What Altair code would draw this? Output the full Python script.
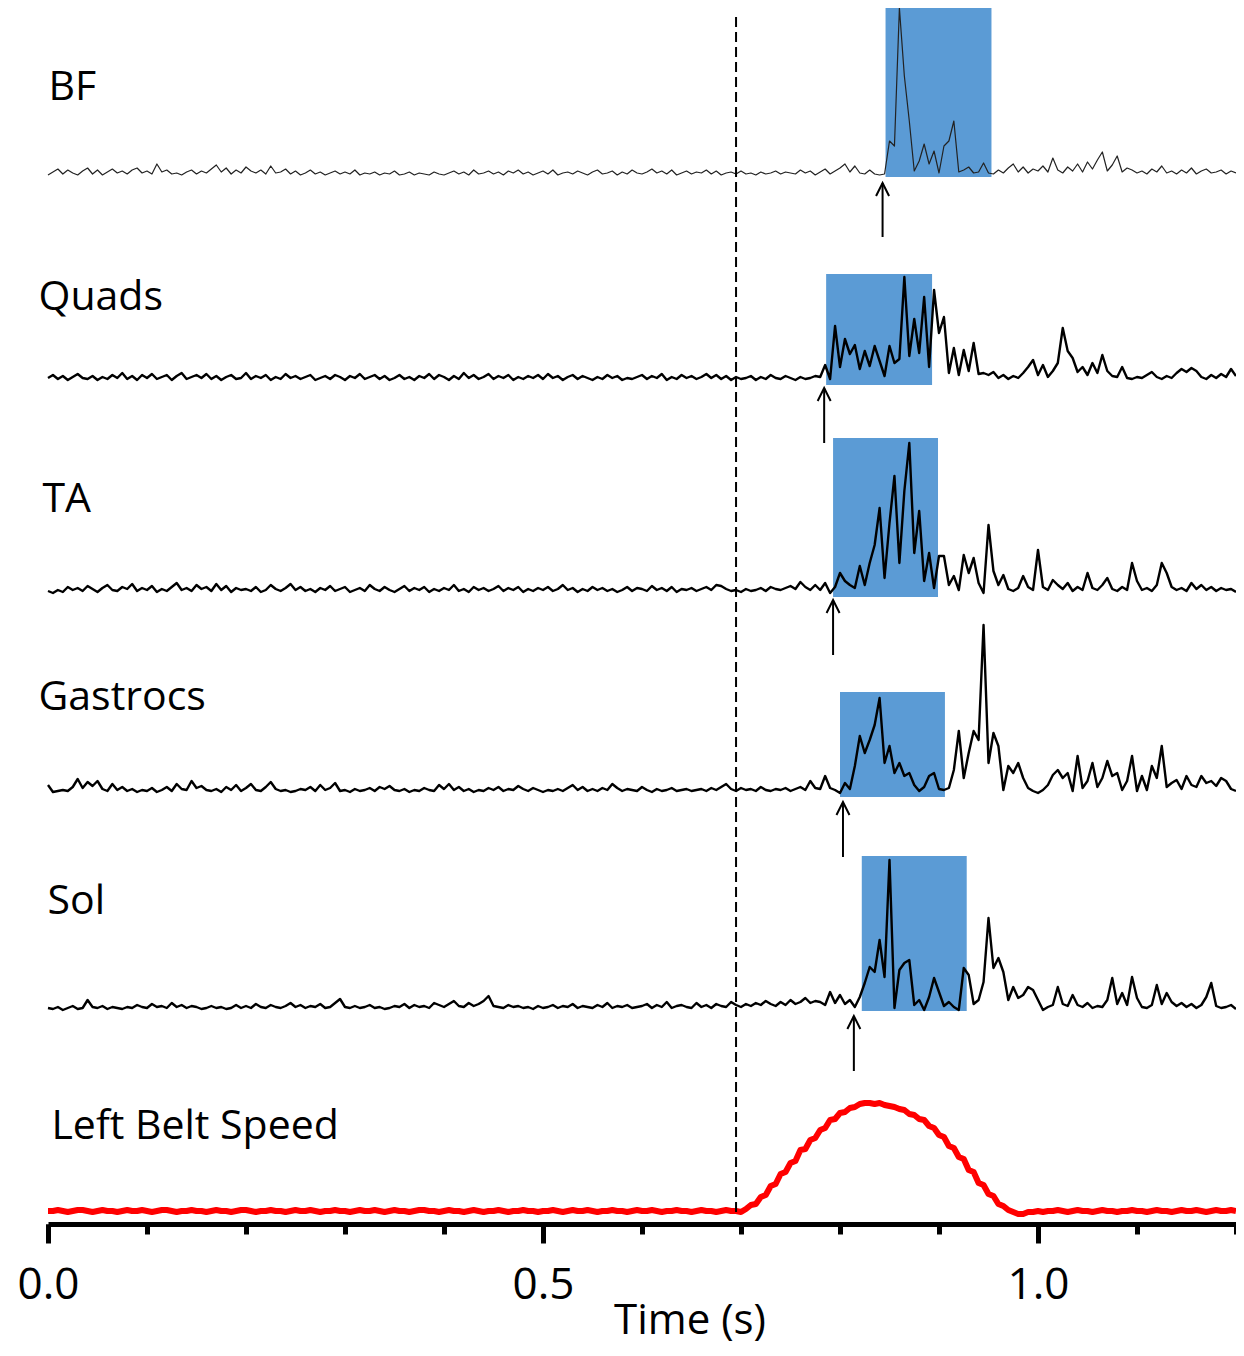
import altair as alt
import pandas as pd

STEP = 0.005  # sampling interval of the traces (s)

channels = ["BF", "Quads", "TA", "Gastrocs", "Sol"]

bf = [
    1, 4, 7, 2, 6, 3, 1, 5, 8, 2,
    6, 1, 4, 7, 3, 5, 2, 6, 8, 3,
    5, 2, 12, 4, 6, 2, 3, 1, 4, 6,
    2, 5, 3, 7, 11, 4, 8, 2, 6, 3,
    9, 5, 3, 6, 2, 10, 3, 4, 7, 2,
    5, 1, 3, 6, 2, 4, 1, 3, 5, 2,
    4, 2, 6, 1, 3, 2, 4, 1, 3, 2,
    5, 1, 2, 4, 1, 3, 2, 1, 4, 2,
    1, 3, 5, 2, 4, 1, 6, 2, 3, 5,
    2, 4, 1, 5, 3, 6, 2, 4, 1, 3,
    5, 2, 6, 1, 3, 4, 2, 5, 3, 1,
    4, 6, 2, 3, 5, 1, 4, 2, 6, 3,
    2, 4, 7, 3, 5, 2, 6, 1, 3, 5,
    2, 4, 3, 6, 2, 5, 1, 3, 4, 2,
    5, 2, 3, 1, 4, 2, 3, 5, 2, 4,
    3, 2, 6, 3, 5, 1, 4, 7, 2, 5,
    8, 12, 4, 10, 3, 2, 6, 2, 1, 2,
    35, 30, 168, 100, 55, 5, 15, 32, 12, 25,
    3, 30, 35, 55, 4, 6, 9, 3, 4, 13,
    3, 2, 6, 3, 8, 12, 4, 9, 3, 7,
    5, 10, 4, 18, 6, 3, 9, 5, 12, 4,
    14, 7, 16, 24, 5, 11, 20, 4, 8, 6,
    3, 5, 2, 7, 4, 10, 3, 5, 2, 6,
    3, 8, 2, 5, 7, 3, 4, 6, 2, 5, 3,
]

quads = [
    3, 6, 2, 5, 1, 4, 7, 3, 2, 5,
    1, 4, 2, 6, 3, 8, 2, 5, 1, 6,
    3, 7, 2, 4, 6, 1, 5, 8, 2, 4,
    6, 3, 7, 2, 5, 1, 4, 6, 2, 3,
    8, 2, 5, 3, 6, 1, 4, 2, 7, 3,
    5, 2, 4, 6, 1, 3, 5, 2, 6, 4,
    1, 5, 3, 7, 2, 4, 6, 2, 5, 1,
    3, 6, 2, 4, 1, 5, 3, 7, 2, 6,
    4, 1, 5, 2, 8, 3, 6, 2, 4, 7,
    2, 5, 3, 6, 1, 4, 2, 5, 3, 6,
    2, 7, 3, 5, 1, 4, 6, 2, 5, 3,
    1, 4, 2, 6, 3, 5, 1, 3, 2, 4,
    6, 2, 5, 3, 7, 1, 4, 2, 6, 3,
    5, 2, 4, 7, 3, 6, 2, 5, 1, 4,
    2, 3, 5, 1, 4, 2, 6, 3, 2, 5,
    3, 1, 4, 2, 3, 5,
    4, 16, 2, 55, 14, 42, 27, 36, 12, 30,
    15, 35, 20, 5, 35, 18, 22, 104, 25, 62,
    28, 84, 14, 91, 48, 64, 8, 33, 6, 31,
    10, 38, 7, 8, 6, 9, 3, 6, 2, 5,
    3, 8, 14, 21, 6, 16, 4, 10, 18, 53,
    30, 23, 9, 14, 6, 18, 8, 26, 10, 5,
    4, 14, 3, 2, 4, 3, 6, 9, 4, 2,
    5, 3, 8, 12, 9, 13, 10, 4, 2, 6,
    3, 7, 4, 12, 5,
]

ta = [
    2, 0, 3, 1, 6, 3, 5, 2, 7, 4,
    1, 5, 8, 3, 2, 6, 4, 9, 2, 5,
    3, 7, 1, 4, 2, 6, 10, 3, 5, 2,
    8, 4, 6, 2, 9, 3, 7, 1, 5, 3,
    4, 2, 6, 1, 3, 8, 4, 2, 5, 9,
    3, 6, 2, 4, 1, 5, 3, 7, 2, 4,
    6, 1, 3, 5, 2, 8, 4, 2, 6, 3,
    1, 4, 7, 2, 5, 3, 6, 1, 4, 2,
    5, 3, 8, 2, 4, 1, 6, 3, 5, 2,
    4, 7, 2, 5, 3, 6, 1, 4, 2, 5,
    3, 6, 2, 4, 8, 3, 5, 1, 4, 2,
    6, 3, 5, 2, 4, 1, 3, 6, 2, 5,
    4, 2, 7, 3, 5, 2, 6, 1, 4, 3,
    5, 2, 4, 6, 3, 8, 7, 4, 2, 3,
    1, 4, 2, 3, 5, 2, 6, 4, 3, 5,
    7, 4, 11, 6, 3, 8,
    3, 10, 0, 6, 20, 12, 8, 5, 27, 8,
    30, 48, 85, 15, 70, 117, 30, 102, 150, 40,
    82, 12, 40, 5, 37, 37, 8, 17, 3, 38,
    20, 35, 10, 0, 68, 22, 8, 18, 4, 2,
    5, 17, 6, 3, 43, 6, 3, 13, 8, 4,
    10, 2, 6, 3, 20, 5, 3, 8, 15, 4,
    2, 6, 3, 30, 12, 3, 5, 2, 8, 30,
    20, 6, 3, 5, 2, 10, 4, 8, 3, 6,
    2, 5, 3, 4, 1,
]

gastrocs = [
    8, 1, 2, 3, 2, 6, 14, 5, 11, 7,
    12, 4, 2, 9, 3, 6, 2, 4, 1, 3,
    2, 5, 1, 3, 6, 2, 9, 4, 3, 12,
    5, 7, 3, 2, 4, 1, 6, 3, 8, 2,
    5, 9, 3, 2, 6, 11, 4, 2, 3, 1,
    2, 4, 3, 6, 2, 8, 3, 5, 10, 2,
    3, 1, 4, 2, 3, 5, 2, 6, 4, 7,
    3, 2, 4, 1, 3, 2, 5, 3, 2, 8,
    4, 9, 3, 6, 2, 4, 1, 3, 2, 5,
    3, 6, 2, 4, 3, 7, 4, 2, 5, 3,
    1, 3, 2, 4, 2, 5, 8, 3, 6, 2,
    4, 2, 5, 3, 9, 5, 2, 4, 3, 2,
    6, 3, 1, 4, 2, 3, 5, 2, 3, 4,
    2, 3, 4, 2, 5, 3, 6, 9, 4, 2,
    5, 3, 4, 2, 6, 3, 2, 4, 3, 5,
    2, 4, 6, 3, 12, 5,
    4, 17, 5, 3, 0, 10, 4, 27, 57, 40,
    53, 68, 95, 30, 47, 20, 30, 17, 20, 8,
    2, 6, 17, 20, 4, 3, 5, 23, 62, 15,
    40, 62, 53, 168, 30, 60, 47, 3, 27, 20,
    30, 15, 5, 2, 0, 3, 8, 18, 23, 15,
    20, 2, 37, 5, 12, 30, 6, 15, 32, 17,
    20, 3, 12, 37, 2, 17, 3, 27, 15, 47,
    6, 10, 13, 4, 17, 8, 6, 17, 10, 12,
    7, 15, 12, 4, 2,
]

sol = [
    2, 1, 3, 0, 2, 4, 1, 2, 10, 3,
    2, 4, 1, 3, 2, 1, 3, 2, 5, 3,
    2, 6, 3, 4, 2, 7, 3, 5, 2, 4,
    3, 1, 2, 4, 2, 3, 1, 2, 5, 2,
    4, 2, 6, 3, 2, 5, 3, 2, 4, 7,
    3, 5, 2, 4, 3, 6, 2, 3, 7, 11,
    3, 2, 4, 2, 3, 5, 2, 3, 1, 2,
    4, 3, 6, 2, 5, 3, 4, 2, 7, 5,
    3, 6, 9, 4, 3, 7, 4, 6, 9, 14,
    4, 3, 2, 5, 3, 4, 2, 3, 1, 4,
    2, 3, 5, 2, 4, 3, 6, 2, 4, 3,
    2, 5, 3, 7, 2, 4, 3, 5, 2, 3,
    4, 6, 2, 5, 3, 8, 2, 4, 5, 3,
    2, 7, 3, 5, 2, 6, 4, 3, 8, 5,
    3, 6, 4, 7, 5, 9, 6, 4, 8, 5,
    10, 6, 8, 12, 7, 9,
    8, 5, 18, 7, 15, 6, 10, 3, 13, 27,
    43, 38, 70, 33, 150, 2, 40, 47, 50, 5,
    10, 0, 13, 32, 18, 4, 8, 3, 0, 42,
    35, 6, 10, 28, 92, 42, 52, 38, 10, 23,
    12, 15, 23, 20, 10, 0, 3, 5, 23, 6,
    4, 15, 5, 3, 7, 2, 4, 3, 10, 32,
    6, 17, 5, 33, 12, 3, 2, 5, 25, 6,
    17, 8, 4, 7, 3, 6, 2, 5, 13, 27,
    4, 2, 3, 5, 1,
]

belt_speed = [
    1, 1, 2, 1, 0, 1, 2, 2, 1, 0,
    1, 2, 1, 1, 0, 1, 2, 1, 1, 2,
    1, 0, 1, 2, 2, 1, 0, 1, 1, 2,
    1, 1, 0, 1, 2, 1, 1, 0, 1, 2,
    2, 1, 0, 1, 1, 2, 1, 1, 0, 1,
    2, 1, 1, 2, 1, 0, 1, 1, 2, 1,
    1, 0, 1, 2, 1, 1, 2, 1, 0, 1,
    2, 1, 1, 0, 1, 2, 2, 1, 1, 0,
    1, 2, 1, 1, 0, 1, 2, 1, 0, 1,
    1, 2, 1, 0, 1, 1, 2, 1, 1, 0,
    1, 1, 2, 1, 0, 1, 2, 1, 1, 2,
    1, 0, 1, 1, 2, 1, 1, 0, 1, 2,
    1, 1, 2, 1, 0, 1, 1, 2, 1, 1,
    0, 1, 2, 1, 1, 0, 1, 2, 1, 1,
    0, 3, 7, 8, 15, 17, 26, 28, 38, 40,
    49, 51, 62, 63, 72, 74, 82, 84, 92, 93,
    99, 100, 104, 105, 108, 109, 109, 108, 109, 107,
    106, 105, 103, 102, 98, 97, 93, 92, 86, 84,
    77, 75, 66, 64, 55, 53, 42, 40, 29, 27,
    18, 16, 8, 6, 2, 0, -2, -2, 0, 0,
    1, 0, 1, 1, 2, 1, 0, 1, 2, 1,
    1, 0, 1, 2, 1, 1, 0, 1, 1, 2,
    1, 1, 0, 1, 2, 1, 1, 0, 1, 2,
    1, 1, 2, 1, 0, 1, 2, 1, 1, 2, 1,
]

# burst windows (s) and arrow (onset) times
burst_start = [0.846, 0.786, 0.793, 0.800, 0.822]
burst_end = [0.953, 0.893, 0.899, 0.906, 0.928]
onset_time = [0.843, 0.784, 0.793, 0.803, 0.814]
event_time = 0.695

tick_values = [0.0, 0.1, 0.2, 0.3, 0.4, 0.5, 0.6, 0.7, 0.8, 0.9, 1.0, 1.1, 1.2]
label_values = [0.0, 0.5, 1.0]

# ---- layout (vertical stacking of the traces, in display units) ----
offset = {"BF": 1046, "Quads": 841, "TA": 629, "Gastrocs": 429, "Sol": 212, "Belt": 10}
rect_top = {"BF": 1214, "Quads": 948, "TA": 784, "Gastrocs": 530, "Sol": 366}
rect_bot = {"BF": 1045, "Quads": 837, "TA": 625, "Gastrocs": 425, "Sol": 211}
arrow_tail = {"BF": 985, "Quads": 779, "TA": 567, "Gastrocs": 365, "Sol": 151}
arrow_head = {"BF": 1039, "Quads": 834, "TA": 622, "Gastrocs": 420, "Sol": 206}
label_text = ["BF", "Quads", "TA", "Gastrocs", "Sol", "Left Belt Speed"]
label_x = [0.0005, -0.0096, -0.0056, -0.0096, -0.0005, 0.0035]
label_y = [1134, 924, 722, 524, 320, 95]
line_w = {"BF": 1.2, "Quads": 2.4, "TA": 2.4, "Gastrocs": 2.4, "Sol": 2.4}
line_c = {"BF": "#222222", "Quads": "black", "TA": "black", "Gastrocs": "black", "Sol": "black"}

rows = []
for ch, amps in zip(channels, [bf, quads, ta, gastrocs, sol]):
    for i, a in enumerate(amps):
        rows.append({"ch": ch, "t": i * STEP, "y": offset[ch] + a,
                     "w": line_w[ch], "col": line_c[ch]})
trace_df = pd.DataFrame(rows)

belt_df = pd.DataFrame({"t": [i * STEP for i in range(len(belt_speed))],
                        "y": [offset["Belt"] + v for v in belt_speed]})

rect_df = pd.DataFrame({
    "ch": channels, "t0": burst_start, "t1": burst_end,
    "yb": [rect_bot[c] for c in channels], "yt": [rect_top[c] for c in channels],
})
arrow_df = pd.DataFrame({
    "t": onset_time,
    "tail": [arrow_tail[c] for c in channels],
    "head": [arrow_head[c] for c in channels],
})
dash_df = pd.DataFrame({"t": [event_time], "y1": [10], "y2": [1207]})
label_df = pd.DataFrame({"label": label_text, "lx": label_x, "ly": label_y})

FONT = "Open Sans"
xs = alt.Scale(domain=[0, 1.2], nice=False, zero=False)
ys = alt.Scale(domain=[0, 1214], nice=False, zero=False)

major_axis = alt.Axis(
    values=label_values, format=".1f", orient="bottom", offset=2,
    tickSize=19, tickWidth=5, tickColor="black",
    domainColor="black", domainWidth=5, grid=False,
    labelFont=FONT, labelFontSize=44, labelColor="black", labelPadding=20,
    labelFlush=False, labelOverlap=False,
    title="Time (s)", titleFont=FONT, titleFontSize=42, titleFontWeight="normal",
    titleColor="black", titleX=641.5, titleY=109, titleBaseline="alphabetic",
    titleAlign="center",
)
minor_axis = alt.Axis(
    values=tick_values, orient="bottom", offset=2,
    tickSize=10, tickWidth=5, tickColor="black",
    domain=False, labels=False, grid=False, title=None,
)

rects = alt.Chart(rect_df).mark_rect(color="#5B9BD5").encode(
    x=alt.X("t0:Q", scale=xs, axis=None), x2="t1:Q",
    y=alt.Y("yb:Q", scale=ys, axis=None), y2="yt:Q",
)

traces = alt.Chart(trace_df).mark_line(strokeJoin="round").encode(
    x=alt.X("t:Q", scale=xs, axis=major_axis),
    y=alt.Y("y:Q", scale=ys, axis=None),
    detail="ch:N",
    color=alt.Color("col:N", scale=None),
    strokeWidth=alt.StrokeWidth("w:Q", scale=None),
)

belt = alt.Chart(belt_df).mark_line(color="#FF0000", strokeWidth=6, strokeJoin="round").encode(
    x=alt.X("t:Q", scale=xs, axis=minor_axis),
    y=alt.Y("y:Q", scale=ys, axis=None),
)

dashed = alt.Chart(dash_df).mark_rule(color="black", strokeWidth=2, strokeDash=[10, 5]).encode(
    x=alt.X("t:Q", scale=xs, axis=None),
    y=alt.Y("y1:Q", scale=ys, axis=None), y2="y2:Q",
)

shafts = alt.Chart(arrow_df).mark_rule(color="black", strokeWidth=2).encode(
    x=alt.X("t:Q", scale=xs, axis=None),
    y=alt.Y("tail:Q", scale=ys, axis=None), y2="head:Q",
)
heads = alt.Chart(arrow_df).mark_point(
    shape="M -1 2 L 0 0 L 1 2", size=169, filled=False,
    stroke="black", strokeWidth=2, opacity=1,
).encode(
    x=alt.X("t:Q", scale=xs, axis=None),
    y=alt.Y("head:Q", scale=ys, axis=None),
)

labels = alt.Chart(label_df).mark_text(
    font=FONT, fontSize=41, align="left", baseline="middle", color="black",
).encode(
    x=alt.X("lx:Q", scale=xs, axis=None),
    y=alt.Y("ly:Q", scale=ys, axis=None),
    text="label:N",
)

chart = alt.layer(rects, traces, belt, dashed, shafts, heads, labels).resolve_axis(
    x="independent"
).properties(
    width=1188, height=1214,
    autosize=alt.AutoSizeParams(type="none"),
    padding={"left": 40, "top": 0, "right": 0, "bottom": 126},
    background="white",
).configure_view(stroke="transparent", strokeWidth=0)

chart.save("out.html", embed_options={"renderer": "svg", "actions": False})
